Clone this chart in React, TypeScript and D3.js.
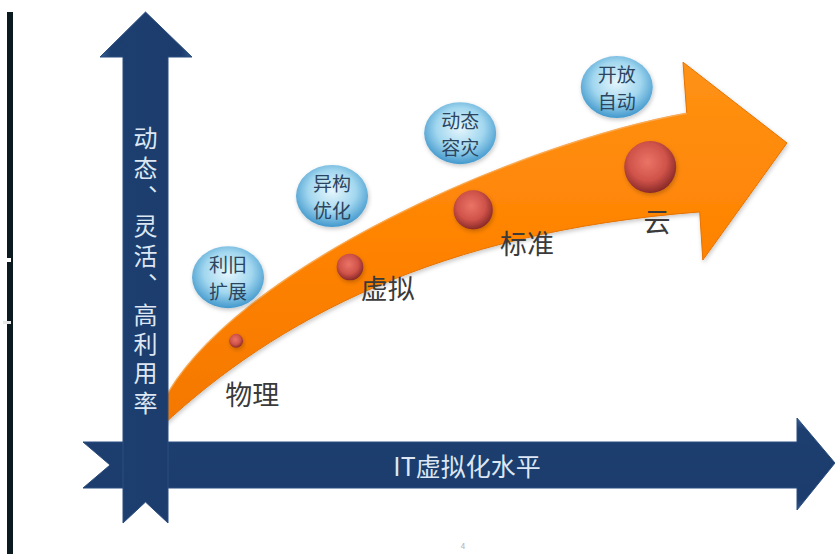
import * as d3 from 'd3';

// stage values: virtualization level (x) and flexibility (y), on a 0-100 scale
const STAGES = ['物理', '虚拟', '标准', '云'];
const STAGE_LEVEL = [11.0, 29.4, 49.3, 77.9];
const STAGE_FLEX = [19.4, 37.5, 51.5, 62.0];
const STAGE_WEIGHT = [1, 2, 3, 4];
const STAGE_LABEL_LEVEL = [13.6, 35.5, 58.0, 79.0];
const STAGE_LABEL_FLEX = [6.6, 32.5, 43.6, 49.0];

const BENEFITS = [
  ['利旧', '扩展'],
  ['异构', '优化'],
  ['动态', '容灾'],
  ['开放', '自动'],
];
const BENEFIT_LEVEL = [9.7, 26.5, 47.2, 72.5];
const BENEFIT_FLEX = [35.0, 54.9, 70.3, 81.6];

// growth band: cubic edges (start, ctrl1, ctrl2, end) and arrow head, in (level, flex)
const BAND_UPPER: [number, number][] = [[-1, 4.0], [10.0, 36.8], [56.9, 67.9], [83.8, 75.2]];
const BAND_HEAD: [number, number][] = [[83.2, 87.7], [100, 67.9], [86.4, 39.2]];
const BAND_LOWER: [number, number][] = [[-1, -1.5], [17.3, 24.5], [43.9, 46.1], [85.9, 51.0]];

const Y_TITLE = '动态、灵活、高利用率';
const X_TITLE = 'IT虚拟化水平';

const W = 835;
const H = 554;
const FONT = '"Noto Sans CJK SC", "Noto Sans", sans-serif';

export default function App() {
  const x = d3.scaleLinear().domain([0, 100]).range([168, 787]);
  const y = d3.scaleLinear().domain([0, 100]).range([420, 12]);
  const r = d3.scaleLinear().domain([1, 4]).range([7, 26]);
  const px = (d: [number, number]): [number, number] => [x(d[0]), y(d[1])];

  const u = BAND_UPPER.map(px);
  const l = BAND_LOWER.map(px);
  const band = d3.path();
  band.moveTo(...u[0]);
  band.bezierCurveTo(...u[1], ...u[2], ...u[3]);
  BAND_HEAD.map(px).forEach((p) => band.lineTo(...p));
  band.lineTo(...l[3]);
  band.bezierCurveTo(...l[2], ...l[1], ...l[0]);
  band.closePath();

  const upperEdge = d3.path();
  upperEdge.moveTo(...u[0]);
  upperEdge.bezierCurveTo(...u[1], ...u[2], ...u[3]);

  // axis arrows
  const vx0 = 123, vx1 = 168, vcx = (vx0 + vx1) / 2;
  const vArrow = d3.path();
  vArrow.moveTo(vcx, 12);
  vArrow.lineTo(192, 57);
  vArrow.lineTo(vx1, 57);
  vArrow.lineTo(vx1, 523);
  vArrow.lineTo(vcx, 502);
  vArrow.lineTo(vx0, 523);
  vArrow.lineTo(vx0, 57);
  vArrow.lineTo(100, 57);
  vArrow.closePath();

  const hy0 = 442, hy1 = 488, hcy = (hy0 + hy1) / 2;
  const hArrow = d3.path();
  hArrow.moveTo(83, hy0);
  hArrow.lineTo(797, hy0);
  hArrow.lineTo(797, 418);
  hArrow.lineTo(835, 463);
  hArrow.lineTo(797, 510);
  hArrow.lineTo(797, hy1);
  hArrow.lineTo(83, hy1);
  hArrow.lineTo(110, hcy);
  hArrow.closePath();

  return (
    <svg
      width={W}
      height={H}
      style={{ position: 'absolute', left: 0, top: 0, background: '#fff' }}
      fontFamily={FONT}
    >
      <defs>
        <linearGradient id="navyV" x1="0" x2="1" y1="0" y2="0">
          <stop offset="0" stopColor="#3b5f92" />
          <stop offset="0.12" stopColor="#1d3f70" />
          <stop offset="0.88" stopColor="#1b3c6c" />
          <stop offset="1" stopColor="#34578a" />
        </linearGradient>
        <linearGradient id="navyH" x1="0" x2="0" y1="0" y2="1">
          <stop offset="0" stopColor="#3b5f92" />
          <stop offset="0.12" stopColor="#1d3f70" />
          <stop offset="0.88" stopColor="#1b3c6c" />
          <stop offset="1" stopColor="#34578a" />
        </linearGradient>
        <linearGradient id="orange" x1="0" x2="0" y1="0" y2="1">
          <stop offset="0" stopColor="#ff9215" />
          <stop offset="0.5" stopColor="#ff8302" />
          <stop offset="1" stopColor="#f47700" />
        </linearGradient>
        <radialGradient id="sphere" cx="0.45" cy="0.4" r="0.6">
          <stop offset="0" stopColor="#ea7466" />
          <stop offset="0.6" stopColor="#d0534a" />
          <stop offset="1" stopColor="#8a2a28" />
        </radialGradient>
        <radialGradient id="bubble" cx="0.5" cy="0.42" r="0.6">
          <stop offset="0" stopColor="#e6f6fc" />
          <stop offset="0.55" stopColor="#a2d7ef" />
          <stop offset="1" stopColor="#3a93ca" />
        </radialGradient>
        <filter id="shadow" x="-20%" y="-20%" width="140%" height="150%">
          <feDropShadow dx="1" dy="2" stdDeviation="2" floodColor="#000" floodOpacity="0.22" />
        </filter>
      </defs>

      {/* screen edge line */}
      <rect x={7} y={12} width={6} height={H - 12} fill="#0b1a1f" />
      <rect x={3} y={258} width={8} height={4} fill="#fff" />
      <rect x={3} y={321} width={8} height={3} fill="#e8e8e8" />

      <path d={band.toString()} fill="url(#orange)" stroke="#e57200" strokeWidth={1} filter="url(#shadow)" />
      <path d={upperEdge.toString()} fill="none" stroke="#ffbe70" strokeWidth={1.5} opacity={0.7} />

      <path d={hArrow.toString()} fill="url(#navyH)" stroke="#2b4d80" strokeWidth={1} />
      <path d={vArrow.toString()} fill="url(#navyV)" stroke="#2b4d80" strokeWidth={1} />

      <text
        x={vcx}
        y={126}
        fontSize={24}
        letterSpacing={5.4}
        fill="#dde7f4"
        style={{ writingMode: 'vertical-rl' }}
      >
        {Y_TITLE}
      </text>
      <text
        x={467}
        y={hcy}
        textAnchor="middle"
        dominantBaseline="central"
        fontSize={25}
        fill="#dde7f4"
      >
        {X_TITLE}
      </text>

      {BENEFITS.map((lines, i) => (
        <g key={i} transform={`translate(${x(BENEFIT_LEVEL[i])},${y(BENEFIT_FLEX[i])})`}>
          <ellipse rx={36} ry={31} fill="url(#bubble)" filter="url(#shadow)" />
          {lines.map((t, j) => (
            <text
              key={j}
              y={(j - 0.5) * 27}
              textAnchor="middle"
              dominantBaseline="central"
              fontSize={19}
              fill="#2b4560"
            >
              {t}
            </text>
          ))}
        </g>
      ))}

      {STAGES.map((s, i) => (
        <g key={s}>
          <circle
            cx={x(STAGE_LEVEL[i])}
            cy={y(STAGE_FLEX[i])}
            r={r(STAGE_WEIGHT[i])}
            fill="url(#sphere)"
            filter="url(#shadow)"
          />
          <text
            x={x(STAGE_LABEL_LEVEL[i])}
            y={y(STAGE_LABEL_FLEX[i])}
            textAnchor="middle"
            dominantBaseline="central"
            fontSize={27}
            fill="#3a3a3a"
          >
            {s}
          </text>
        </g>
      ))}

      <text x={463} y={549} textAnchor="middle" fontSize={8} fill="#b0b0b0">
        4
      </text>
    </svg>
  );
}
